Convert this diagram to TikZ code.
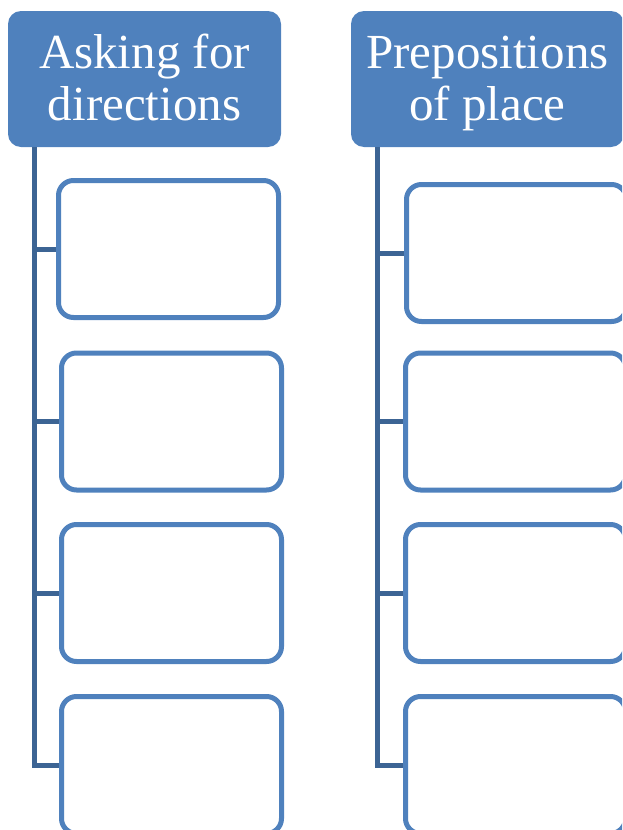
\documentclass[tikz,border=0pt]{standalone}
\usepackage{fontspec}
\setmainfont{Liberation Serif}
\usepackage{tikz}
\usetikzlibrary{positioning, calc}
\definecolor{officeblue}{RGB}{79,129,189}
\definecolor{trunkblue}{RGB}{60,100,148}
\newcommand{\topline}{\rule{0pt}{42pt}}
\newcommand{\botline}{\rule[-12pt]{0pt}{12pt}}

\begin{document}
\begin{tikzpicture}[
    x=1pt, y=-1pt,
    head/.style={fill=officeblue, rounded corners=13pt, minimum width=273pt, minimum height=136pt,
                 inner sep=0pt, align=center, text=white, font=\fontsize{49}{52}\selectfont},
    item/.style={draw=officeblue, line width=5pt, fill=white, rounded corners=15pt,
                 minimum width=220pt, minimum height=137pt, inner sep=0pt},
    link/.style={draw=trunkblue, line width=5pt}
]
\clip (0,0) rectangle (622,830);
% left column
\node[head] (askhead) at (144.5,79) {\topline Asking for\\directions\botline};
\coordinate (asktop) at (34.5,147);
\node[item] (ask1) at (168.5,249) {};
\node[item] (ask2) at (171.5,421.5) {};
\node[item] (ask3) at (171.5,593) {};
\node[item] (ask4) at (171.5,765) {};
\draw[link] (asktop) |- (ask4.west);
\draw[link] (asktop |- ask1.west) -- (ask1.west);
\draw[link] (asktop |- ask2.west) -- (ask2.west);
\draw[link] (asktop |- ask3.west) -- (ask3.west);
% right column
\node[head] (prephead) at (487.5,79) {\topline Prepositions\\of place\botline};
\coordinate (preptop) at (377.5,147);
\node[item] (prep1) at (516.5,253) {};
\node[item] (prep2) at (515.5,421.5) {};
\node[item] (prep3) at (515.5,593) {};
\node[item] (prep4) at (515.5,765) {};
\draw[link] (preptop) |- (prep4.west);
\draw[link] (preptop |- prep1.west) -- (prep1.west);
\draw[link] (preptop |- prep2.west) -- (prep2.west);
\draw[link] (preptop |- prep3.west) -- (prep3.west);
\end{tikzpicture}
\end{document}
